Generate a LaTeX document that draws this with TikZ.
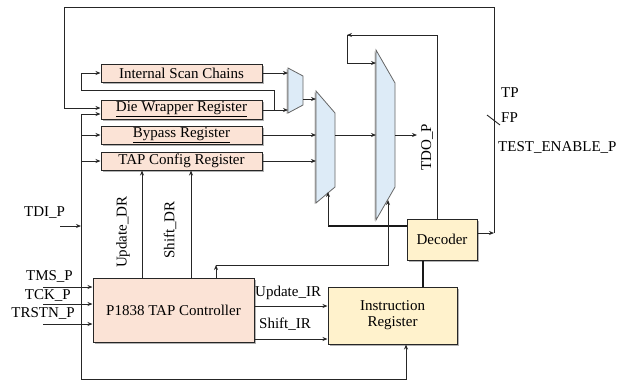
\documentclass[tikz,border=0pt]{standalone}
\usepackage{fontspec}
\setmainfont{Liberation Serif}
\usetikzlibrary{arrows.meta,shadows}
\definecolor{regc}{HTML}{FBE3D6}
\definecolor{muxc}{HTML}{DDEBF7}
\definecolor{yelc}{HTML}{FFF2CC}
\begin{document}
\begin{tikzpicture}[x=1pt,y=-1pt,
  font=\fontsize{15}{16}\selectfont,
  >={Stealth[length=5pt,width=4pt]},
  wire/.style={draw=black!85,line width=0.9pt},
  thick wire/.style={draw=black!90,line width=1.5pt},
  shad/.style={drop shadow={shadow xshift=1.5pt,shadow yshift=-1.5pt,fill=black!60,opacity=0.5}},
  lshad/.style={drop shadow={shadow xshift=-1.5pt,shadow yshift=-1pt,fill=black!60,opacity=0.5}},
  reg/.style={draw=black!85,line width=1pt,fill=regc,shad,minimum width=161pt,minimum height=18pt,inner sep=0pt},
  ybox/.style={draw=black!85,line width=1pt,fill=yelc,shad,inner sep=0pt,align=center},
  mux/.style={draw=black!60,line width=0.8pt,fill=muxc,lshad},
  lbl/.style={inner sep=0pt}
]
\useasboundingbox (0,0) rectangle (626,381);

% registers
\node[reg] (isc) at (181.5,73) {Internal Scan Chains};
\node[reg,minimum height=19pt] (dwr) at (181.5,109.5) {\underline{Die Wrapper Register}};
\node[reg] (byp) at (181.5,135) {\underline{Bypass Register}};
\node[reg] (tcr) at (181.5,161) {TAP Config Register};
\node[reg,minimum height=64pt] (tap) at (173.5,310) {P1838 TAP Controller};
\node[ybox,minimum width=129pt,minimum height=57pt] (ir) at (392.5,315.5) {Instruction\\Register};
\node[ybox,minimum width=70pt,minimum height=41pt] (dec) at (442,239.5) {Decoder};

% multiplexers
\draw[mux] (288,68) -- (303,76) -- (303,105) -- (288,113) -- cycle;
\draw[mux] (316,91) -- (335,113) -- (335,187) -- (316,203) -- cycle;
\draw[mux] (376,50) -- (395,83) -- (395,187) -- (376,220) -- cycle;
\coordinate (m1a) at (288,73);
\coordinate (m1b) at (288,110);
\coordinate (m1o) at (303,99);
\coordinate (m2a) at (316,99);
\coordinate (m2b) at (316,135);
\coordinate (m2c) at (316,161);
\coordinate (m2o) at (335,135);
\coordinate (m2s) at (328,192);
\coordinate (m3a) at (376,63);
\coordinate (m3b) at (376,135);
\coordinate (m3o) at (395,135);
\coordinate (m3s) at (388,200);
\coordinate (tdo) at (417,135);

% register outputs into muxes
\draw[wire,->] (isc.east) -- (m1a);
\draw[wire,->] (dwr.east |- m1b) -- (m1b);
\draw[wire,->] (274,110) -- (274,90) -- (81,90) -- (81,73) -- (isc.west);
\draw[wire,->] (m1o) -- (m2a);
\draw[wire,->] (byp.east) -- (m2b);
\draw[wire,->] (tcr.east) -- (m2c);
\draw[wire,->] (m2o) -- (m3b);
\draw[wire,->] (m3o) -- (tdo);

% decoder connections
\draw[wire] (437,219) -- (437,35) -- (347,35);
\draw[wire,->] (437,35) -- (347,35);
\draw[wire,->] (347,35) -- (347,63) -- (m3a);
\draw[thick wire] (dec.west |- 0,226) -- (328,226);
\draw[wire,->] (328,226) -- (m2s);
\draw[thick wire] (dec.south -| 423,0) -- (ir.north -| 423,0);
\coordinate (tpr) at (494,233);
\draw[wire,->] (dec.east |- tpr) -- (tpr);
\draw[wire,->] (tpr) -- (494,7) -- (64,7) -- (64,108) -- (dwr.west |- 0,108);
\draw[wire] (487,115) -- (500,125);

% TDI bus
\draw[wire,->] (81,379) -- (81,114) -- (dwr.west |- 0,114);
\draw[wire,->] (81,135) -- (byp.west);
\draw[wire,->] (81,161) -- (tcr.west);
\draw[wire,->] (60,226) -- (81,226);
\draw[wire,->] (81,379) -- (406,379) -- (ir.south -| 406,0);

% TAP controller signals
\draw[wire,->] (tap.north -| 142,0) -- (tcr.south -| 142,0);
\draw[wire,->] (tap.north -| 191,0) -- (tcr.south -| 191,0);
\draw[wire,->] (tap.north -| 216,0) -- (216,265);
\draw[wire,->] (216,265) -- (388,265) -- (m3s);
\draw[wire,->] (tap.east |- 0,306) -- (ir.west |- 0,306);
\draw[wire,->] (tap.east |- 0,339) -- (ir.west |- 0,339);
\draw[wire,->] (43,287) -- (tap.west |- 0,287);
\draw[wire,->] (43,304) -- (tap.west |- 0,304);
\draw[wire,->] (43,324) -- (tap.west |- 0,324);

% labels
\node[lbl,anchor=west] (ltdi) at (24,213) {TDI\_P};
\node[lbl,anchor=east] (ltms) at (73,276) {TMS\_P};
\node[lbl,anchor=east] (ltck) at (71,295) {TCK\_P};
\node[lbl,anchor=east] (ltrst) at (75,313) {TRSTN\_P};
\node[lbl,rotate=90] (lupdr) at (123,232) {Update\_DR};
\node[lbl,rotate=90] (lshdr) at (170,230) {Shift\_DR};
\node[lbl,anchor=west] (lupir) at (255,293) {Update\_IR};
\node[lbl,anchor=west] (lshir) at (259,324) {Shift\_IR};
\node[lbl,rotate=90] (ltdo) at (427,147) {TDO\_P};
\node[lbl,anchor=west] (ltp) at (501,93) {TP};
\node[lbl,anchor=west] (lfp) at (501,118) {FP};
\node[lbl,anchor=west] (lte) at (498,147) {TEST\_ENABLE\_P};
\end{tikzpicture}
\end{document}
